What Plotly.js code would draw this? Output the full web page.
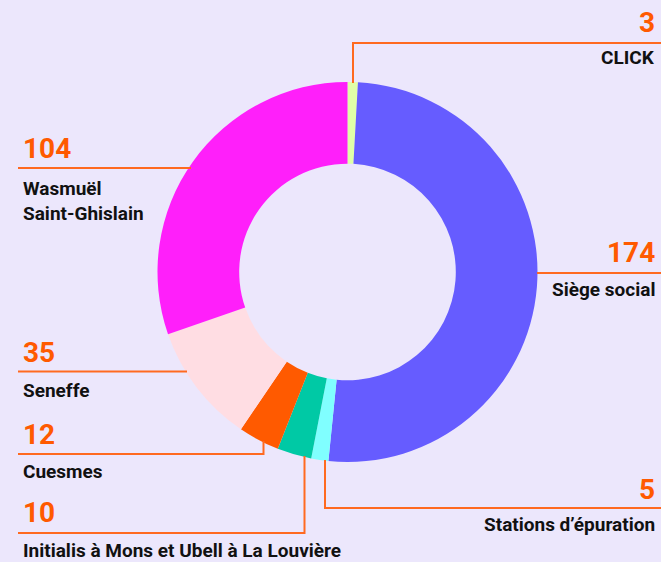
<!DOCTYPE html>
<html>
<head>
<meta charset="utf-8">
<script src="https://cdn.plot.ly/plotly-3.0.1.min.js"></script>
<style>html,body{margin:0;padding:0;background:#ece7fc;}#chart{width:661px;height:562px;}</style>
</head>
<body>
<div id="chart"></div>
<script>
// Data (clockwise from 12 o'clock)
const categories = ["CLICK", "Siège social", "Stations d’épuration", "Initialis à Mons et Ubell à La Louvière", "Cuesmes", "Seneffe", "Wasmuël<br>Saint-Ghislain"];
const values = [3, 174, 5, 10, 12, 35, 104];
const colors = ["#e0ffa8", "#665cff", "#80ffff", "#00c9a5", "#ff5a00", "#ffdde3", "#ff1ffa"];

const W = 661, H = 562;
const px = x => x / W;
const py = y => 1 - y / H;
const cx = 347.5, cy = 272, R = 190;

const FONT = 'Roboto, "Liberation Sans", sans-serif';
const ORANGE = "#ff5a00";
const LINE = "#ff6a20";

const labelSpec = [
  {i: 0, side: "right", numY: 22.5, labY: 57.8, pts: [[353, 83], [353, 43], [661, 43]]},
  {i: 1, side: "right", numY: 253, labY: 289, pts: [[537, 273], [661, 273]]},
  {i: 2, side: "right", numY: 489, labY: 524.7, pts: [[325, 460], [325, 508], [661, 508]]},
  {i: 3, side: "left", numY: 512.5, labY: 550.5, pts: [[304.5, 456], [304.5, 533], [18, 533]]},
  {i: 4, side: "left", numY: 434, labY: 471, pts: [[263.5, 441], [263.5, 454], [18, 454]]},
  {i: 5, side: "left", numY: 352.5, labY: 390, pts: [[187, 371.5], [18, 371.5]]},
  {i: 6, side: "left", numY: 148.7, labY: 200.5, pts: [[191, 168], [18, 168]]}
];

const annotations = [];
const shapes = [];
labelSpec.forEach(s => {
  const xText = s.side === "right" ? px(657) : px(21);
  const anchor = s.side === "right" ? "right" : "left";
  annotations.push({
    xref: "paper", yref: "paper", x: xText, y: py(s.numY), xanchor: anchor, yanchor: "middle",
    text: "<b>" + values[s.i] + "</b>", showarrow: false,
    font: {family: FONT, size: 28, color: ORANGE}, align: anchor
  });
  annotations.push({
    xref: "paper", yref: "paper", x: xText, y: py(s.labY), xanchor: anchor, yanchor: "middle",
    text: "<b>" + categories[s.i] + "</b>", showarrow: false,
    font: {family: FONT, size: 19, color: "#111111"}, align: anchor
  });
  const d = s.pts.map((p, k) => (k === 0 ? "M" : "L") + px(p[0]) + "," + py(p[1])).join(" ");
  shapes.push({type: "path", xref: "paper", yref: "paper", path: d, line: {color: LINE, width: 2}});
});

const trace = {
  type: "pie",
  labels: categories,
  values: values,
  marker: {colors: colors, line: {width: 0}},
  hole: 0.57,
  sort: false,
  direction: "clockwise",
  rotation: 0,
  textinfo: "none",
  hoverinfo: "none",
  showlegend: false,
  domain: {x: [px(cx - R), px(cx + R)], y: [py(cy + R), py(cy - R)]}
};

const layout = {
  width: W, height: H,
  margin: {l: 0, r: 0, t: 0, b: 0},
  paper_bgcolor: "#ece7fc",
  plot_bgcolor: "#ece7fc",
  showlegend: false,
  annotations: annotations,
  shapes: shapes
};

Plotly.newPlot("chart", [trace], layout, {displayModeBar: false, staticPlot: true});
</script>
</body>
</html>
